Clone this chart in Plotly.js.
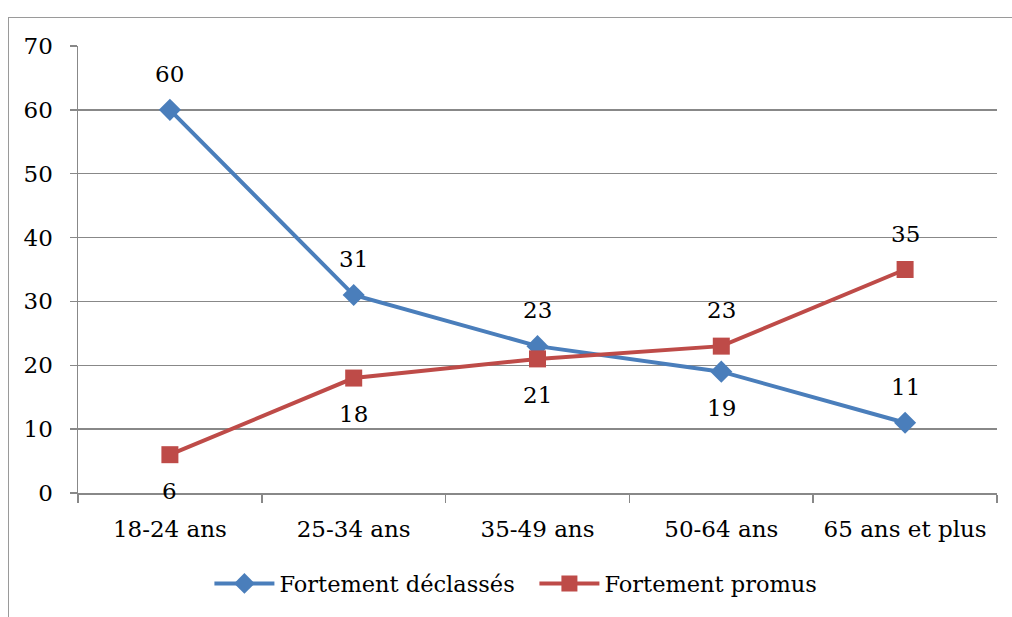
<!DOCTYPE html>
<html><head><meta charset="utf-8">
<script src="https://cdn.plot.ly/plotly-3.0.1.min.js"></script>
<style>
html,body{margin:0;padding:0;background:#fff;}
#wrap{position:relative;width:1012px;height:617px;overflow:hidden;}
#chart{width:1012px;height:617px;}
#frame{position:absolute;left:8px;top:17px;width:1100px;height:700px;border-left:1.5px solid #9a9a9a;border-top:1.5px solid #9a9a9a;pointer-events:none;}
</style></head>
<body><div id="wrap"><div id="chart"></div><div id="frame"></div></div>
<script>
const categories = ["18-24 ans", "25-34 ans", "35-49 ans", "50-64 ans", "65 ans et plus"];
const declasses = [60, 31, 23, 19, 11];
const promus = [6, 18, 21, 23, 35];
const seriesNames = ["Fortement déclassés", "Fortement promus"];
const labelSideDeclasses = ["top", "top", "top", "bottom", "top"];
const labelSidePromus = ["bottom", "bottom", "bottom", "top", "top"];

const FONT = "DejaVu Serif";
const blue = "#4a7ebb", red = "#be4b48", grid = "#888888";

const traces = [
  {x: categories, y: declasses, name: seriesNames[0], type: "scatter", mode: "lines+markers",
   line: {color: blue, width: 4}, marker: {symbol: "diamond", size: 17, color: blue}},
  {x: categories, y: promus, name: seriesNames[1], type: "scatter", mode: "lines+markers",
   line: {color: red, width: 4}, marker: {symbol: "square", size: 17, color: red}}
];

const annotations = [];
function addLabels(vals, sides) {
  vals.forEach((v, i) => annotations.push({
    x: categories[i], y: v, text: String(v), showarrow: false,
    yshift: sides[i] === "top" ? 36 : -36,
    font: {family: FONT, size: 23, color: "#000"}
  }));
}
addLabels(declasses, labelSideDeclasses);
addLabels(promus, labelSidePromus);

const layout = {
  width: 1012, height: 617,
  margin: {l: 78, r: 15, t: 46, b: 121},
  paper_bgcolor: "#fff", plot_bgcolor: "#fff",
  font: {family: FONT, size: 23, color: "#000"},
  showlegend: true,
  legend: {orientation: "h", x: 0.143, xanchor: "left", y: -0.155, yanchor: "top",
           font: {family: FONT, size: 22.5, color: "#000"}, itemwidth: 60,
           entrywidth: 250, entrywidthmode: "pixels"},
  xaxis: {type: "category", range: [-0.5, 4.5], showgrid: false,
          showline: true, linecolor: grid, linewidth: 1.5,
          ticks: "outside", tickson: "boundaries", ticklen: 8, tickcolor: grid, tickwidth: 1.5,
          ticklabelstandoff: 15, zeroline: false},
  yaxis: {range: [0, 70], dtick: 10, showgrid: true, gridcolor: grid, gridwidth: 1.5,
          showline: true, linecolor: grid, linewidth: 1.5,
          ticks: "outside", ticklen: 7, tickcolor: grid, tickwidth: 1.5,
          ticklabelstandoff: 12, zeroline: false},
  annotations: annotations
};

Plotly.newPlot("chart", traces, layout, {displayModeBar: false, staticPlot: true});
</script></body></html>
